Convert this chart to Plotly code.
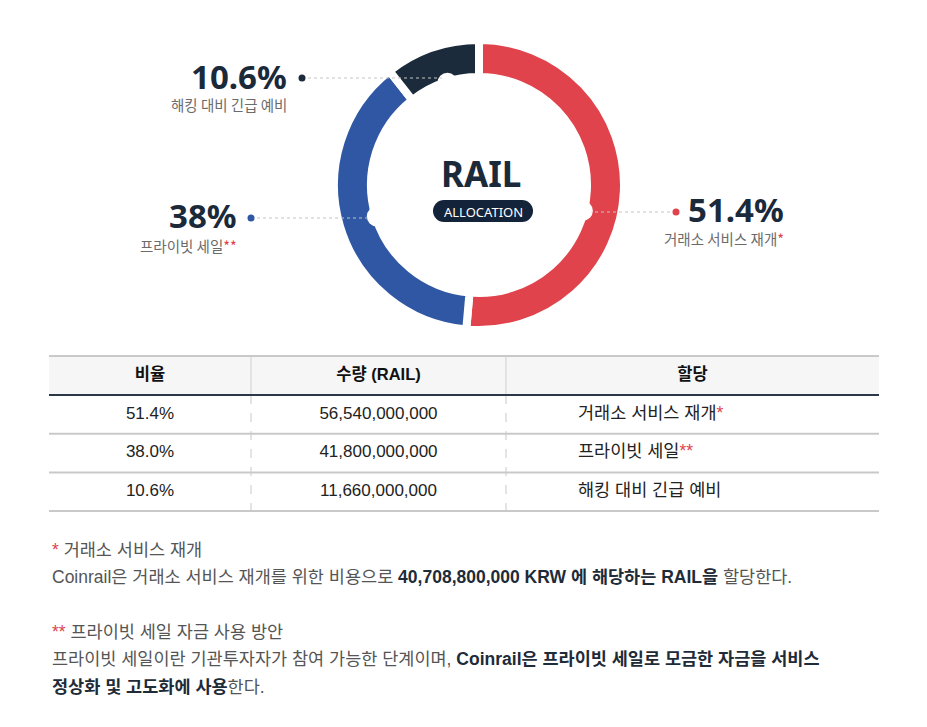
import math
import plotly.graph_objects as go

W, H = 927, 727
OFF = 8  # page body margin: map screenshot pixels directly to axis units

# ---------------- data ----------------
alloc_labels = ["거래소 서비스 재개", "프라이빗 세일", "해킹 대비 긴급 예비"]
alloc_marks = ["*", "**", ""]
shares = [51.4, 38.0, 10.6]
share_texts = ["51.4%", "38%", "10.6%"]
amounts = [56540000000, 41800000000, 11660000000]
header_labels = ["비율", "수량 (RAIL)", "할당"]
slice_colors = ["#e0434c", "#2f57a3", "#1b2b3b"]

RED = "#e0434c"
DARK = "#1b2a3a"

# ---------------- layout constants ----------------
CX, CY, R = 479, 185, 145
HOLE = 0.745
R_IN = 112  # visible inner radius

fig = go.Figure()

fig.add_trace(go.Pie(
    values=shares, labels=alloc_labels, sort=False, direction="clockwise",
    rotation=0, hole=HOLE,
    marker=dict(colors=slice_colors, line=dict(color="white", width=8)),
    textinfo="none", hoverinfo="skip", showlegend=False,
    domain=dict(x=[(CX - OFF - R) / W, (CX - OFF + R) / W],
                y=[1 - (CY - OFF + R) / H, 1 - (CY - OFF - R) / H]),
))

shapes = []
annotations = []

# ---- center text ----
annotations.append(dict(x=481, y=173, xref="x", yref="y", text="RAIL", showarrow=False,
                        xanchor="center", yanchor="middle",
                        font=dict(family="Noto Sans", size=35, color=DARK, weight=700)))
PILL_CX, PILL_CY, PILL_W, PILL_H = 483, 211, 100, 22
pr = PILL_H / 2
shapes.append(dict(type="rect", xref="x", yref="y", x0=PILL_CX - PILL_W / 2 + pr, x1=PILL_CX + PILL_W / 2 - pr,
                   y0=PILL_CY - pr, y1=PILL_CY + pr, fillcolor="#13233a", line=dict(width=0), layer="above"))
for cx in (PILL_CX - PILL_W / 2 + pr, PILL_CX + PILL_W / 2 - pr):
    shapes.append(dict(type="circle", xref="x", yref="y", x0=cx - pr, x1=cx + pr, y0=PILL_CY - pr, y1=PILL_CY + pr,
                       fillcolor="#13233a", line=dict(width=0), layer="above"))
annotations.append(dict(x=PILL_CX, y=PILL_CY + 1, xref="x", yref="y", text="ALLOCATION", showarrow=False,
                        xanchor="center", yanchor="middle",
                        font=dict(family="Noto Sans", size=13, color="white")))

# ---- callouts: (label index, side, leader y, dot x, text right edge, value y, sub y)
callouts = [
    (2, -1, 78, 302, 289, 76, 104),
    (1, -1, 218, 251, 239, 215, 245),
    (0, 1, 212, 676, 786, 209, 238),
]
for idx, side, ly, dotx, tx, vy, sy in callouts:
    ex = CX + side * math.sqrt(R_IN ** 2 - (ly - CY) ** 2)
    ang = math.atan2(ly - CY, ex - CX)
    nr = 10
    ncx = CX + (R_IN - 5) * math.cos(ang)
    ncy = CY + (R_IN - 5) * math.sin(ang)
    shapes.append(dict(type="circle", xref="x", yref="y", x0=ncx - nr, x1=ncx + nr, y0=ncy - nr, y1=ncy + nr,
                       fillcolor="white", line=dict(width=0), layer="above"))
    # leader
    shapes.append(dict(type="line", xref="x", yref="y", x0=dotx, x1=ex + side * 4, y0=ly, y1=ly,
                       line=dict(color="#c4c4c4", width=1, dash="dot"), layer="above"))
    # dot
    shapes.append(dict(type="circle", xref="x", yref="y", x0=dotx - 3.5, x1=dotx + 3.5, y0=ly - 3.5, y1=ly + 3.5,
                       fillcolor=slice_colors[idx], line=dict(width=0), layer="above"))
    annotations.append(dict(x=tx, y=vy, xref="x", yref="y", text=share_texts[idx], showarrow=False,
                            xanchor="right", yanchor="middle",
                            font=dict(family="Noto Sans", size=33, color=DARK, weight=700)))
    sub = alloc_labels[idx]
    if alloc_marks[idx]:
        sub += f'<span style="color:{RED}">{alloc_marks[idx]}</span>'
    annotations.append(dict(x=tx, y=sy, xref="x", yref="y", text=sub, showarrow=False,
                            xanchor="right", yanchor="middle",
                            font=dict(family="Noto Sans CJK KR", size=14.5, color="#6b6b6b")))

# ---------------- table ----------------
TL, TR = 49, 879
COL_X = [49, 251, 506, 879]
T_TOP, HDR_H, ROW_H = 356, 39, 38.7
hdr_bottom = T_TOP + HDR_H
shapes.append(dict(type="rect", xref="x", yref="y", x0=TL, x1=TR, y0=T_TOP, y1=hdr_bottom,
                   fillcolor="#f6f6f6", line=dict(width=0), layer="below"))
for vx in COL_X[1:3]:
    shapes.append(dict(type="line", xref="x", yref="y", x0=vx, x1=vx, y0=T_TOP, y1=hdr_bottom,
                       line=dict(color="#cfcfcf", width=1), layer="below"))
    shapes.append(dict(type="line", xref="x", yref="y", x0=vx, x1=vx, y0=hdr_bottom,
                       y1=hdr_bottom + ROW_H * len(shares),
                       line=dict(color="#c8c8c8", width=1, dash="dash"), layer="below"))
shapes.append(dict(type="line", xref="x", yref="y", x0=TL, x1=TR, y0=T_TOP, y1=T_TOP,
                   line=dict(color="#c9c9c9", width=2), layer="below"))
shapes.append(dict(type="line", xref="x", yref="y", x0=TL, x1=TR, y0=hdr_bottom, y1=hdr_bottom,
                   line=dict(color="#2a3848", width=2), layer="below"))
for i in range(len(shares)):
    yy = hdr_bottom + ROW_H * (i + 1)
    shapes.append(dict(type="line", xref="x", yref="y", x0=TL, x1=TR, y0=yy, y1=yy,
                       line=dict(color="#c9c9c9", width=2), layer="below"))

col_centers = [(COL_X[i] + COL_X[i + 1]) / 2 for i in range(3)]
TFONT = "Liberation Sans, Arial, Noto Sans CJK KR"
fig.add_trace(go.Scatter(
    x=col_centers, y=[T_TOP + HDR_H / 2] * 3, mode="text",
    text=[f"<b>{h}</b>" for h in header_labels], textposition="middle center",
    textfont=dict(family=TFONT, size=16.5, color="#111111"), hoverinfo="skip", showlegend=False))
row_y = [hdr_bottom + ROW_H * (i + 0.5) for i in range(len(shares))]
fig.add_trace(go.Scatter(
    x=[col_centers[0]] * 3, y=row_y, mode="text",
    text=[f"{v:.1f}%" for v in shares], textposition="middle center",
    textfont=dict(family=TFONT, size=17, color="#222222"), hoverinfo="skip", showlegend=False))
fig.add_trace(go.Scatter(
    x=[col_centers[1]] * 3, y=row_y, mode="text",
    text=[f"{v:,}" for v in amounts], textposition="middle center",
    textfont=dict(family=TFONT, size=17, color="#222222"), hoverinfo="skip", showlegend=False))
col3_text = [lab + (f'<span style="color:{RED}">{m}</span>' if m else "") for lab, m in zip(alloc_labels, alloc_marks)]
fig.add_trace(go.Scatter(
    x=[578] * 3, y=row_y, mode="text", marker=dict(size=0),
    text=col3_text, textposition="middle right",
    textfont=dict(family=TFONT, size=17.5, color="#222222"), hoverinfo="skip", showlegend=False))

# ---------------- footnotes ----------------
NFONT = "Liberation Sans, Arial, Noto Sans CJK KR"
BOLD = "#1e2b38"
notes = [
    (550, f'<span style="color:{RED}">*</span> 거래소 서비스 재개'),
    (577, f'Coinrail은 거래소 서비스 재개를 위한 비용으로 <b><span style="color:{BOLD}">40,708,800,000 KRW 에 해당하는 RAIL을</span></b> 할당한다.'),
    (632, f'<span style="color:{RED}">**</span> 프라이빗 세일 자금 사용 방안'),
    (659, f'프라이빗 세일이란 기관투자자가 참여 가능한 단계이며, <b><span style="color:{BOLD}">Coinrail은 프라이빗 세일로 모금한 자금을 서비스</span></b>'),
    (687, f'<b><span style="color:{BOLD}">정상화 및 고도화에 사용</span></b>한다.'),
]
for ny, txt in notes:
    annotations.append(dict(x=50, y=ny, xref="x", yref="y", text=txt, showarrow=False,
                            xanchor="left", yanchor="middle", align="left",
                            font=dict(family=NFONT, size=17.5, color="#555555")))

fig.update_layout(
    width=W, height=H, margin=dict(l=0, r=0, t=0, b=0),
    paper_bgcolor="white", plot_bgcolor="white",
    xaxis=dict(range=[OFF, W + OFF], visible=False, fixedrange=True, domain=[0, 1]),
    yaxis=dict(range=[H + OFF, OFF], visible=False, fixedrange=True, domain=[0, 1]),
    shapes=shapes, annotations=annotations, showlegend=False,
)

fig.write_html("out.html")
